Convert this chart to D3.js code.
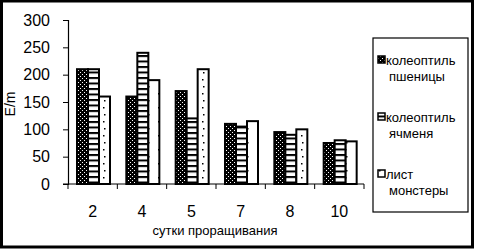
<!DOCTYPE html>
<html>
<head>
<meta charset="utf-8">
<script src="https://cdn.jsdelivr.net/npm/d3@7"></script>
<style>
    body { margin: 0; background: #fff; }
    text { font-family: "Liberation Sans", Arial, sans-serif; fill: #000; }
</style>
</head>
<body>
<div id="chart"></div>
<script>
// values
var days = ["2", "4", "5", "7", "8", "10"];
var wheat = [210, 160, 170, 110, 95, 75];
var barley = [210, 240, 120, 105, 90, 80];
var monstera = [160, 190, 210, 115, 100, 78];
var seriesNames = [["колеоптиль", "пшеницы"], ["колеоптиль", "ячменя"], ["лист", "монстеры"]];
var yTicks = [0, 50, 100, 150, 200, 250, 300];

var series = [wheat, barley, monstera];
var patterns = ["pWheat", "pBarley", "pMonstera"];

var svg = d3.select("#chart")
    .append("svg")
    .attr("width", 478)
    .attr("height", 250);

// fill patterns
var defs = svg.append("defs");

var p1 = defs.append("pattern").attr("id", "pWheat")
    .attr("patternUnits", "userSpaceOnUse").attr("width", 4).attr("height", 4);
p1.append("rect").attr("width", 4).attr("height", 4).attr("fill", "#000");
p1.append("rect").attr("x", 0).attr("y", 0).attr("width", 1).attr("height", 1).attr("fill", "#fff");
p1.append("rect").attr("x", 2).attr("y", 2).attr("width", 1).attr("height", 1).attr("fill", "#fff");

var p2 = defs.append("pattern").attr("id", "pBarley")
    .attr("patternUnits", "userSpaceOnUse").attr("width", 8).attr("height", 5.5);
p2.append("rect").attr("width", 8).attr("height", 5.5).attr("fill", "#fff");
p2.append("rect").attr("y", 0).attr("width", 8).attr("height", 2).attr("fill", "#000");

var p3 = defs.append("pattern").attr("id", "pMonstera")
    .attr("patternUnits", "userSpaceOnUse").attr("width", 11).attr("height", 14);
p3.append("rect").attr("width", 11).attr("height", 14).attr("fill", "#fff");
p3.append("rect").attr("x", 5).attr("y", 2).attr("width", 1.5).attr("height", 1.5).attr("fill", "#000");
p3.append("rect").attr("x", 4).attr("y", 9).attr("width", 1.5).attr("height", 1.5).attr("fill", "#000");

// outer frame
svg.append("rect")
    .attr("x", 1.5).attr("y", 1)
    .attr("width", 471).attr("height", 246)
    .attr("fill", "none")
    .attr("stroke", "#000")
    .attr("stroke-width", 3);

var x0 = d3.scaleBand().domain(days).range([68, 364]).padding(0);
var x1 = d3.scaleBand().domain([0, 1, 2]).range([9, 42]).padding(0);
var y = d3.scaleLinear().domain([0, 300]).range([184, 20]);

// bars
series.forEach(function(vals, s) {
    svg.selectAll(".bar" + s)
        .data(vals)
        .enter().append("rect")
        .attr("class", "bar" + s)
        .attr("x", function(d, i) { return x0(days[i]) + x1(s); })
        .attr("y", function(d) { return y(d); })
        .attr("width", x1.bandwidth())
        .attr("height", function(d) { return y(0) - y(d); })
        .attr("fill", "url(#" + patterns[s] + ")")
        .attr("stroke", "#000")
        .attr("stroke-width", 2);
});

// y axis
var yAxis = svg.append("g")
    .attr("transform", "translate(68,0)")
    .call(d3.axisLeft(y).tickValues(yTicks).tickSize(5).tickFormat(""));
yAxis.select(".domain").attr("stroke-width", 1.2);

svg.selectAll(".ylab")
    .data(yTicks)
    .enter().append("text")
    .attr("class", "ylab")
    .attr("x", 50)
    .attr("y", function(d) { return y(d) + 5.5; })
    .attr("text-anchor", "end")
    .attr("font-size", "16px")
    .text(function(d) { return d; });

// x axis
var xAxis = svg.append("g")
    .attr("transform", "translate(0,184)");
xAxis.append("line")
    .attr("x1", 63).attr("x2", 364)
    .attr("stroke", "#000").attr("stroke-width", 1.2);
xAxis.selectAll(".xtick")
    .data(days.concat(["end"]))
    .enter().append("line")
    .attr("x1", function(d, i) { return 68 + i * x0.step(); })
    .attr("x2", function(d, i) { return 68 + i * x0.step(); })
    .attr("y1", 0).attr("y2", 5)
    .attr("stroke", "#000");

svg.selectAll(".xlab")
    .data(days)
    .enter().append("text")
    .attr("class", "xlab")
    .attr("x", function(d) { return x0(d) + x0.bandwidth() / 2; })
    .attr("y", 217)
    .attr("text-anchor", "middle")
    .attr("font-size", "16px")
    .text(function(d) { return d; });

svg.append("text")
    .attr("x", 215)
    .attr("y", 235)
    .attr("text-anchor", "middle")
    .attr("font-size", "13px")
    .text("сутки проращивания");

svg.append("text")
    .attr("transform", "translate(15,104) rotate(-90)")
    .attr("text-anchor", "middle")
    .attr("font-size", "14px")
    .text("E/m");

// legend
svg.append("rect")
    .attr("x", 373).attr("y", 38)
    .attr("width", 95).attr("height", 174)
    .attr("fill", "none")
    .attr("stroke", "#000")
    .attr("stroke-width", 1.2);

var legendY = [56, 113, 170];
seriesNames.forEach(function(names, s) {
    svg.append("rect")
        .attr("x", 378).attr("y", legendY[s])
        .attr("width", 7).attr("height", 7)
        .attr("fill", "url(#" + patterns[s] + ")")
        .attr("stroke", "#000")
        .attr("stroke-width", 1.5);
    svg.append("text")
        .attr("x", 386).attr("y", legendY[s] + 9)
        .attr("font-size", "13px")
        .text(names[0]);
    svg.append("text")
        .attr("x", 389).attr("y", legendY[s] + 25)
        .attr("font-size", "13px")
        .text(names[1]);
});
</script>
</body>
</html>
